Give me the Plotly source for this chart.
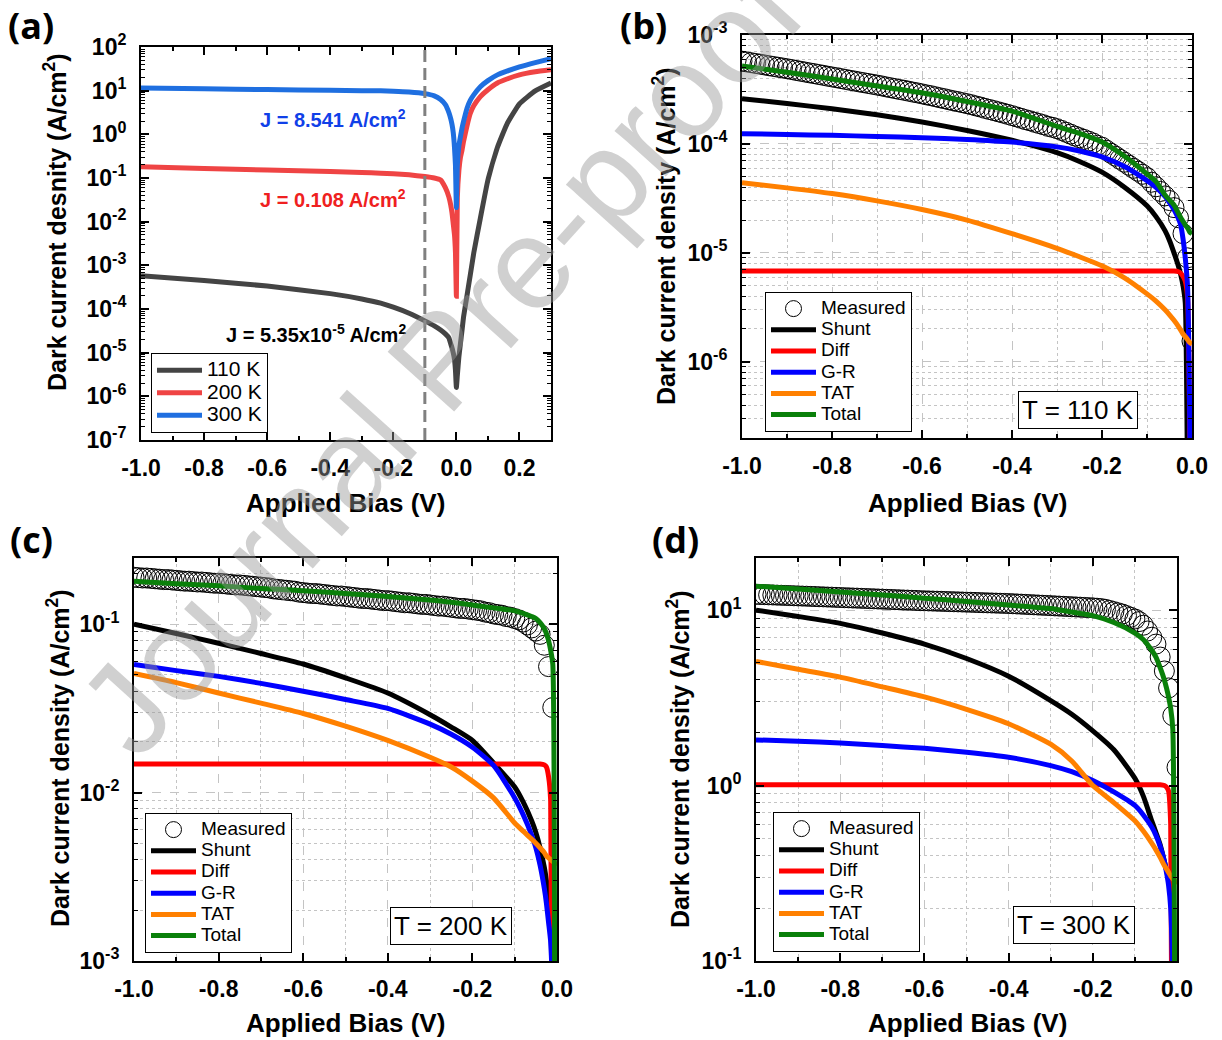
import numpy as np
import plotly.graph_objects as go

W, H = 1222, 1040
FONT = "Liberation Sans, Arial, sans-serif"

# ---------------- panel (a): dark J-V at three temperatures ----------------
bias_a = [-1.0, -0.8, -0.6, -0.4, -0.3, -0.24, -0.2, -0.15, -0.1, -0.07, -0.05, -0.035,
          -0.024, -0.018, -0.014, -0.01, -0.006, -0.003, 0.0, 0.003, 0.008, 0.013, 0.018,
          0.023, 0.034, 0.044, 0.055, 0.076, 0.1, 0.13, 0.16, 0.2, 0.25, 0.3]
j_110k = [5.8e-4, 4.5e-4, 3.35e-4, 2.25e-4, 1.7e-4, 1.36e-4, 1.1e-4, 8.0e-5, 5.35e-5, 4.1e-5,
          3.3e-5, 2.7e-5, 2.2e-5, 1.6e-5, 1.3e-5, 1.0e-5, 7e-6, 4e-6, 1.6e-6, 3e-6, 8.1e-6,
          1.65e-5, 3.3e-5, 6.8e-5, 2.1e-4, 6e-4, 1.9e-3, 1.2e-2, 9e-2, 0.5, 1.7, 5.0, 9.9, 15.0]
j_200k = [0.18, 0.165, 0.152, 0.14, 0.133, 0.129, 0.125, 0.118, 0.108, 0.1, 0.09, 0.06,
          0.037, 0.024, 0.016, 0.009, 0.005, 0.002, 1.95e-4, 0.035, 0.15, 0.3, 0.44, 0.7,
          1.6, 3.0, 4.5, 7.3, 10.5, 15.0, 18.5, 23.0, 27.0, 30.0]
j_300k = [11.5, 11.0, 10.6, 10.2, 10.0, 9.9, 9.7, 9.3, 8.541, 7.6, 6.3, 4.8, 3.2, 2.3, 1.7,
          1.1, 0.5, 0.2, 0.021, 0.2, 0.55, 0.89, 1.4, 2.0, 4.0, 6.0, 8.0, 12.3, 17.0, 23.0,
          28.0, 35.0, 44.0, 54.0]
temps_a = ["110 K", "200 K", "300 K"]
bias_ref = -0.1
j_ref_labels = ["J = 5.35x10<sup>-5</sup> A/cm<sup>2</sup>",
                "J = 0.108 A/cm<sup>2</sup>",
                "J = 8.541 A/cm<sup>2</sup>"]

# ---------------- panels (b)-(d): measured data and fitted components ----------------
bias_fit = [-1.0, -0.9, -0.8, -0.7, -0.6, -0.5, -0.4, -0.3, -0.25, -0.2, -0.15, -0.1,
            -0.08, -0.06, -0.05, -0.04, -0.03, -0.025, -0.02, -0.015, -0.01, -0.005, 0.0]
bias_meas = np.round(np.linspace(-1.0, 0.0, 101), 2)

# T = 110 K
meas_110k = [5.75e-4, 5.66e-4, 5.57e-4, 5.48e-4, 5.40e-4, 5.31e-4, 5.22e-4, 5.14e-4, 5.06e-4, 4.98e-4, 4.90e-4,
             4.82e-4, 4.73e-4, 4.65e-4, 4.57e-4, 4.49e-4, 4.42e-4, 4.34e-4, 4.27e-4, 4.19e-4, 4.12e-4,
             4.05e-4, 3.98e-4, 3.91e-4, 3.84e-4, 3.78e-4, 3.71e-4, 3.65e-4, 3.59e-4, 3.53e-4, 3.47e-4,
             3.41e-4, 3.34e-4, 3.28e-4, 3.22e-4, 3.16e-4, 3.11e-4, 3.05e-4, 2.99e-4, 2.94e-4, 2.88e-4,
             2.82e-4, 2.77e-4, 2.71e-4, 2.65e-4, 2.60e-4, 2.54e-4, 2.49e-4, 2.44e-4, 2.39e-4, 2.34e-4,
             2.29e-4, 2.23e-4, 2.18e-4, 2.12e-4, 2.07e-4, 2.02e-4, 1.97e-4, 1.92e-4, 1.87e-4, 1.82e-4,
             1.77e-4, 1.72e-4, 1.67e-4, 1.63e-4, 1.58e-4, 1.54e-4, 1.50e-4, 1.45e-4, 1.42e-4, 1.38e-4,
             1.33e-4, 1.28e-4, 1.23e-4, 1.18e-4, 1.14e-4, 1.10e-4, 1.06e-4, 1.02e-4, 9.7e-5, 9.33e-5,
             8.75e-5, 8.21e-5, 7.71e-5, 7.23e-5, 6.79e-5, 6.37e-5, 5.97e-5, 5.61e-5, 5.26e-5, 4.90e-5,
             4.45e-5, 4.04e-5, 3.66e-5, 3.33e-5, 3.02e-5,
             2.6e-5, 2.1e-5, 1.5e-5, 9e-6, 1.55e-6]
shunt_110k = [2.6e-4, 2.35e-4, 2.1e-4, 1.85e-4, 1.59e-4, 1.33e-4, 1.08e-4, 8.3e-5, 6.9e-5, 5.5e-5,
              4.0e-5, 2.7e-5, 2.15e-5, 1.6e-5, 1.3e-5, 1.0e-5, 7.5e-6, 6.3e-6, 5.0e-6, 3.5e-6,
              1e-7, 1e-8, 1e-9]
diff_110k = [6.8e-6, 6.8e-6, 6.8e-6, 6.8e-6, 6.8e-6, 6.8e-6, 6.8e-6, 6.8e-6, 6.8e-6, 6.8e-6,
             6.8e-6, 6.8e-6, 6.8e-6, 6.8e-6, 6.8e-6, 6.8e-6, 6.7e-6, 6.5e-6, 6.1e-6, 5.5e-6,
             4e-6, 2e-7, 1e-10]
gr_110k = [1.24e-4, 1.22e-4, 1.2e-4, 1.17e-4, 1.14e-4, 1.1e-4, 1.04e-4, 9.4e-5, 8.6e-5, 7.6e-5,
           6.2e-5, 4.6e-5, 4.0e-5, 3.3e-5, 2.9e-5, 2.5e-5, 2.05e-5, 1.8e-5, 1.35e-5, 9e-6,
           5e-6, 3e-7, 1e-9]
tat_110k = [4.4e-5, 3.95e-5, 3.5e-5, 3.0e-5, 2.5e-5, 2.0e-5, 1.5e-5, 1.1e-5, 9.2e-6, 7.6e-6,
            5.9e-6, 4.2e-6, 3.6e-6, 3.0e-6, 2.7e-6, 2.4e-6, 2.1e-6, 1.95e-6, 1.8e-6, 1.7e-6,
            1.6e-6, 1.5e-6, 1.45e-6]
total_110k = [5.2e-4, 4.55e-4, 3.95e-4, 3.4e-4, 2.95e-4, 2.45e-4, 2.0e-4, 1.45e-4, 1.25e-4, 1.04e-4,
              7.7e-5, 5.3e-5, 4.5e-5, 3.4e-5, 3.05e-5, 2.75e-5, 2.3e-5, 2.1e-5, 1.95e-5, 1.8e-5,
              1.7e-5, 1.55e-5, 1.5e-5]

# T = 200 K
meas_200k = [0.190, 0.189, 0.188, 0.188, 0.187, 0.186, 0.185, 0.184, 0.184, 0.183, 0.182,
             0.181, 0.180, 0.180, 0.179, 0.178, 0.178, 0.177, 0.176, 0.175, 0.175,
             0.174, 0.173, 0.172, 0.171, 0.171, 0.170, 0.169, 0.168, 0.167, 0.166,
             0.165, 0.164, 0.162, 0.161, 0.160, 0.159, 0.158, 0.157, 0.155, 0.154,
             0.153, 0.152, 0.152, 0.151, 0.150, 0.149, 0.148, 0.147, 0.147, 0.146,
             0.145, 0.144, 0.143, 0.142, 0.142, 0.141, 0.140, 0.139, 0.138, 0.138,
             0.137, 0.136, 0.135, 0.134, 0.134, 0.133, 0.132, 0.131, 0.131, 0.130,
             0.129, 0.128, 0.128, 0.127, 0.126, 0.125, 0.124, 0.124, 0.123, 0.122,
             0.121, 0.120, 0.118, 0.117, 0.115, 0.114, 0.113, 0.111, 0.110, 0.108,
             0.106, 0.103, 0.099, 0.095, 0.091,
             0.087, 0.075, 0.056, 0.032, 5e-4]
shunt_200k = [0.1, 0.088, 0.077, 0.067, 0.058, 0.048, 0.039, 0.029, 0.0245, 0.0204,
              0.015, 0.0108, 0.0088, 0.0068, 0.0058, 0.0047, 0.0036, 0.003, 0.0024, 0.0019,
              1e-4, 1e-6, 1e-7]
diff_200k = [0.0148, 0.0148, 0.0148, 0.0148, 0.0148, 0.0148, 0.0148, 0.0148, 0.0148, 0.0148,
             0.0148, 0.0148, 0.0148, 0.0148, 0.0148, 0.0148, 0.0146, 0.0142, 0.0125, 0.009,
             1e-5, 1e-6, 1e-7]
gr_200k = [0.0576, 0.053, 0.049, 0.0445, 0.04, 0.0357, 0.0316, 0.0255, 0.0222, 0.0186,
           0.0145, 0.0093, 0.0074, 0.0056, 0.0047, 0.0037, 0.0027, 0.0022, 0.0017, 0.0013,
           5e-4, 1e-6, 1e-7]
tat_200k = [0.051, 0.045, 0.039, 0.034, 0.0295, 0.0248, 0.0204, 0.0162, 0.0142, 0.0117,
            0.0093, 0.0066, 0.0059, 0.0053, 0.005, 0.0047, 0.0044, 0.0042, 0.0041, 0.004,
            0.0039, 0.0038, 0.0037]
total_200k = [0.18, 0.174, 0.169, 0.163, 0.158, 0.152, 0.146, 0.139, 0.135, 0.13,
              0.125, 0.12, 0.116, 0.111, 0.108, 0.102, 0.094, 0.088, 0.08, 0.07,
              0.058, 5e-5, 1e-6]

# T = 300 K
meas_300k = [12.30, 12.27, 12.25, 12.22, 12.20, 12.17, 12.15, 12.12, 12.10, 12.07, 12.05,
             12.02, 12.00, 11.97, 11.95, 11.92, 11.90, 11.87, 11.85, 11.82, 11.80,
             11.77, 11.75, 11.72, 11.70, 11.67, 11.65, 11.62, 11.60, 11.57, 11.55,
             11.52, 11.50, 11.47, 11.45, 11.42, 11.40, 11.37, 11.35, 11.32, 11.30,
             11.28, 11.26, 11.24, 11.22, 11.20, 11.18, 11.16, 11.14, 11.12, 11.10,
             11.08, 11.06, 11.04, 11.02, 11.00, 10.98, 10.96, 10.94, 10.92, 10.90,
             10.87, 10.84, 10.81, 10.78, 10.75, 10.72, 10.69, 10.66, 10.63, 10.60,
             10.57, 10.54, 10.51, 10.48, 10.45, 10.42, 10.39, 10.36, 10.33, 10.30,
             10.25, 10.20, 10.10, 9.95, 9.80, 9.65, 9.50, 9.30, 9.10, 8.90,
             8.60, 8.20, 7.60, 7.00, 6.40,
             5.40, 4.50, 3.60, 2.50, 1.27]
shunt_300k = [10.0, 9.2, 8.4, 7.4, 6.4, 5.3, 4.2, 3.05, 2.55, 2.05,
              1.6, 1.1, 0.87, 0.63, 0.54, 0.46, 0.37, 0.33, 0.29, 0.24,
              0.18, 0.05, 1e-4]
diff_300k = [1.01, 1.01, 1.01, 1.01, 1.01, 1.01, 1.01, 1.01, 1.01, 1.01,
             1.01, 1.01, 1.01, 1.01, 1.01, 1.01, 1.0, 0.98, 0.93, 0.6,
             1e-3, 1e-4, 1e-5]
gr_300k = [1.82, 1.79, 1.75, 1.69, 1.63, 1.55, 1.45, 1.3, 1.2, 1.07,
           0.92, 0.77, 0.68, 0.58, 0.52, 0.45, 0.37, 0.32, 0.27, 0.2,
           0.07, 1e-3, 1e-5]
tat_300k = [5.1, 4.6, 4.15, 3.65, 3.2, 2.72, 2.25, 1.72, 1.38, 1.0,
            0.8, 0.63, 0.55, 0.47, 0.43, 0.39, 0.35, 0.335, 0.32, 0.305,
            0.295, 0.285, 0.275]
total_300k = [13.7, 13.2, 12.7, 12.2, 11.7, 11.2, 10.7, 10.2, 9.75, 9.3,
              8.5, 7.4, 6.8, 5.9, 5.4, 4.7, 4.0, 3.6, 3.2, 2.75,
              2.1, 0.03, 1e-4]

component_names = ["Shunt", "Diff", "G-R", "TAT", "Total"]
component_colors = ["#000000", "#ff0000", "#0000ff", "#ff8000", "#0a800a"]
temp_colors_a = ["#444444", "#ef4444", "#1f6fe0"]

xticks_a = [-1.0, -0.8, -0.6, -0.4, -0.2, 0.0, 0.2]
xminor_a = [-0.9, -0.7, -0.5, -0.3, -0.1, 0.1, 0.3]
xticks_fit = [-1.0, -0.8, -0.6, -0.4, -0.2, 0.0]
xminor_fit = [-0.9, -0.7, -0.5, -0.3, -0.1]


def px_x(x):
    return x / W


def px_y(y):
    return 1 - y / H


def legend_label(text, size):
    # larger glyphs inside a compact legend row
    return f"<span style='font-size:{size}px'>{text}</span>"


# plot-area rectangles (pixels): left, right, top, bottom
boxes = {
    "a": (141, 551, 47, 440),
    "b": (742, 1192, 35, 438),
    "c": (134, 557, 558, 961),
    "d": (756, 1177, 558, 961),
}

GRIDC = "#c4c4c4"
TICKFONT = dict(family=FONT, size=23, color="black", weight="bold")


def x_axis(box, anchor, rng, major, minor_v, grid):
    l, r, t, b = box
    return dict(
        domain=[px_x(l), px_x(r)], anchor=anchor, range=rng, type="linear",
        automargin=False,
        tickmode="array", tickvals=major, ticktext=[f"{v:.1f}" for v in major],
        ticks="inside", ticklen=8, tickwidth=1.5, tickcolor="black",
        showline=True, linecolor="black", linewidth=2, mirror="ticks",
        tickfont=TICKFONT, ticklabelstandoff=6,
        showgrid=grid, gridcolor=GRIDC, griddash="dash", gridwidth=1, zeroline=False,
        minor=dict(tickmode="array", tickvals=minor_v, ticks="inside", ticklen=4,
                   tickwidth=1.5, tickcolor="black", showgrid=grid, gridcolor=GRIDC,
                   griddash="dot", gridwidth=1),
    )


def y_axis(box, anchor, log_rng, grid):
    l, r, t, b = box
    lo, hi = int(np.floor(log_rng[0])), int(np.ceil(log_rng[1]))
    exps = [e for e in range(lo, hi + 1) if log_rng[0] - 1e-6 <= e <= log_rng[1] + 1e-6]
    minor_v = [k * 10.0 ** e for e in range(lo - 1, hi + 1) for k in range(2, 10)
               if log_rng[0] <= np.log10(k * 10.0 ** e) <= log_rng[1]]
    return dict(
        domain=[px_y(b), px_y(t)], anchor=anchor, type="log", range=log_rng,
        automargin=False,
        tickmode="array", tickvals=[10.0 ** e for e in exps],
        ticktext=[f"10<sup>{e}</sup>" for e in exps],
        ticks="inside", ticklen=8, tickwidth=1.5, tickcolor="black",
        showline=True, linecolor="black", linewidth=2, mirror="ticks",
        tickfont=TICKFONT, ticklabelstandoff=8,
        showgrid=grid, gridcolor=GRIDC, griddash="dash", gridwidth=1, zeroline=False,
        minor=dict(tickmode="array", tickvals=minor_v, ticks="inside", ticklen=4,
                   tickwidth=1, tickcolor="black", showgrid=grid, gridcolor=GRIDC,
                   griddash="dot", gridwidth=1),
    )


fig = go.Figure()

# ----- panel (a) -----
for name, ys, col in zip(temps_a, [j_110k, j_200k, j_300k], temp_colors_a):
    fig.add_trace(go.Scatter(x=bias_a, y=ys, mode="lines", name=legend_label(name, 21),
                             line=dict(color=col, width=5, shape="spline", smoothing=0.4),
                             xaxis="x", yaxis="y", legend="legend"))

# ----- panels (b)-(d) -----
panels = [
    ("x2", "y2", "legend2", meas_110k, [shunt_110k, diff_110k, gr_110k, tat_110k, total_110k]),
    ("x3", "y3", "legend3", meas_200k, [shunt_200k, diff_200k, gr_200k, tat_200k, total_200k]),
    ("x4", "y4", "legend4", meas_300k, [shunt_300k, diff_300k, gr_300k, tat_300k, total_300k]),
]
for xa, ya, lg, meas, comps in panels:
    fig.add_trace(go.Scatter(x=bias_meas, y=meas, mode="markers",
                             name=legend_label("Measured", 19),
                             marker=dict(symbol="circle-open", size=20, color="black",
                                         line=dict(width=1, color="black")),
                             xaxis=xa, yaxis=ya, legend=lg))
    for name, ys, col in zip(component_names, comps, component_colors):
        fig.add_trace(go.Scatter(x=bias_fit, y=ys, mode="lines", name=legend_label(name, 19),
                                 line=dict(color=col, width=5, shape="spline", smoothing=0.6),
                                 xaxis=xa, yaxis=ya, legend=lg))

layout = dict(
    template="none",
    width=W, height=H, autosize=False,
    margin=dict(l=0, r=0, t=0, b=0, pad=0, autoexpand=False),
    paper_bgcolor="white", plot_bgcolor="white",
    font=dict(family=FONT, color="black"),
    showlegend=True,
    xaxis=x_axis(boxes["a"], "y", [-1.0, 0.3], xticks_a, xminor_a, False),
    yaxis=y_axis(boxes["a"], "x", [-7, 2], False),
    xaxis2=x_axis(boxes["b"], "y2", [-1.0, 0.0], xticks_fit, xminor_fit, True),
    yaxis2=y_axis(boxes["b"], "x2", [-6.7, -3], True),
    xaxis3=x_axis(boxes["c"], "y3", [-1.0, 0.0], xticks_fit, xminor_fit, True),
    yaxis3=y_axis(boxes["c"], "x3", [-3, -0.607], True),
    xaxis4=x_axis(boxes["d"], "y4", [-1.0, 0.0], xticks_fit, xminor_fit, True),
    yaxis4=y_axis(boxes["d"], "x4", [-1, 1.297], True),
)

legend_style = dict(bgcolor="white", bordercolor="black", borderwidth=1,
                    xanchor="left", yanchor="top", tracegroupgap=0, itemwidth=45,
                    font=dict(family=FONT, size=14, color="black"))
layout["legend"] = dict(x=px_x(151), y=px_y(353), **{**legend_style,
                        "font": dict(family=FONT, size=15, color="black")})
layout["legend2"] = dict(x=px_x(765), y=px_y(292), **legend_style)
layout["legend3"] = dict(x=px_x(145), y=px_y(813), **legend_style)
layout["legend4"] = dict(x=px_x(773), y=px_y(812), **legend_style)
fig.update_layout(**layout)

# dashed marker line at the reference bias in (a)
fig.add_shape(type="line", xref="x", yref="y domain", x0=bias_ref, x1=bias_ref, y0=0, y1=1,
              line=dict(color="#808080", width=3, dash="12px,6px"))

ann = []
# current-density labels in (a)
for txt, col, yy in zip(j_ref_labels, ["black", "#ef2020", "#1040e8"], [333, 198, 118]):
    ann.append(dict(text=txt, x=px_x(408), y=px_y(yy), xref="paper", yref="paper",
                    xanchor="right", yanchor="middle", showarrow=False,
                    font=dict(family=FONT, size=20, color=col, weight="bold")))

# panel letters
for lab, xx, yy in [("(a)", 6, 25), ("(b)", 618, 25), ("(c)", 8, 539), ("(d)", 650, 539)]:
    ann.append(dict(text=lab, x=px_x(xx), y=px_y(yy), xref="paper", yref="paper",
                    xanchor="left", yanchor="middle", showarrow=False,
                    font=dict(family="Open Sans, Liberation Sans, sans-serif", size=36,
                              color="black", weight="bold")))

# axis titles
xt = [(345, 503), (967, 503), (345, 1023), (967, 1023)]
for xx, yy in xt:
    ann.append(dict(text="Applied Bias (V)", x=px_x(xx), y=px_y(yy), xref="paper",
                    yref="paper", xanchor="center", yanchor="middle", showarrow=False,
                    font=dict(family=FONT, size=26, color="black", weight="bold")))
yt = [("Dark current desnity (A/cm<sup>2</sup>)", 55, 222),
      ("Dark current density (A/cm<sup>2</sup>)", 664, 236),
      ("Dark current density (A/cm<sup>2</sup>)", 58, 758),
      ("Dark current density (A/cm<sup>2</sup>)", 678, 759)]
for txt, xx, yy in yt:
    ann.append(dict(text=txt, x=px_x(xx), y=px_y(yy), xref="paper", yref="paper",
                    xanchor="center", yanchor="middle", textangle=-90, showarrow=False,
                    font=dict(family=FONT, size=25, color="black", weight="bold")))

# temperature boxes
for txt, xx, yy in [("T = 110 K", 1078, 410), ("T = 200 K", 451, 926), ("T = 300 K", 1074, 925)]:
    ann.append(dict(text=txt, x=px_x(xx), y=px_y(yy), xref="paper", yref="paper",
                    xanchor="center", yanchor="middle", showarrow=False,
                    bgcolor="white", bordercolor="black", borderwidth=1, borderpad=3,
                    font=dict(family=FONT, size=26, color="black")))

# journal watermark
ann.append(dict(text="Journal Pre-proof", x=px_x(440), y=px_y(360), xref="paper",
                yref="paper", xanchor="center", yanchor="middle", textangle=-48,
                showarrow=False,
                font=dict(family=FONT, size=130, color="rgba(150,150,150,0.45)")))

fig.update_layout(annotations=ann)
fig.write_html("out.html")
